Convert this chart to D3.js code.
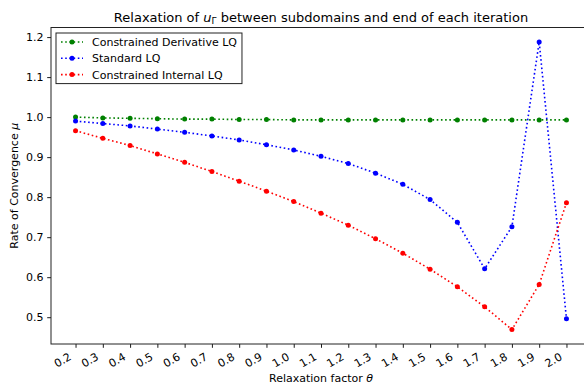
<!DOCTYPE html>
<html>
<head>
<meta charset="utf-8">
<script src="https://cdn.jsdelivr.net/npm/d3@7"></script>
<style>
  html, body { margin: 0; padding: 0; background: #fff; }
  svg { display: block; font-family: "DejaVu Sans", sans-serif; }
</style>
</head>
<body>
<svg id="chart" width="584" height="385"></svg>
<script>
// Relaxation factors on the x axis
const theta = [0.2, 0.3, 0.4, 0.5, 0.6, 0.7, 0.8, 0.9, 1.0, 1.1, 1.2, 1.3, 1.4, 1.5, 1.6, 1.7, 1.8, 1.9, 2.0];

// Rate of convergence for each scheme
const constrainedDerivative = [1.000, 0.998, 0.997, 0.996, 0.995, 0.995, 0.994, 0.994, 0.993, 0.993, 0.993, 0.993, 0.993, 0.993, 0.993, 0.993, 0.993, 0.993, 0.993];
const standard = [0.990, 0.984, 0.978, 0.970, 0.962, 0.953, 0.943, 0.931, 0.918, 0.902, 0.884, 0.860, 0.832, 0.794, 0.737, 0.621, 0.726, 1.188, 0.496];
const constrainedInternal = [0.966, 0.947, 0.929, 0.908, 0.887, 0.864, 0.840, 0.815, 0.789, 0.760, 0.730, 0.696, 0.660, 0.620, 0.576, 0.526, 0.469, 0.582, 0.786];

const xTicks = theta;
const yTicks = [0.5, 0.6, 0.7, 0.8, 0.9, 1.0, 1.1, 1.2];

const seriesNames = ["Constrained Derivative LQ", "Standard LQ", "Constrained Internal LQ"];
const seriesColors = ["#008000", "#0000ff", "#ff0000"];
const seriesValues = [constrainedDerivative, standard, constrainedInternal];

const svg = d3.select("#chart");
const plot = { left: 51, right: 591, top: 27.5, bottom: 344 };
const fs = 11;

// 5% data margins on both axes
const xMin = d3.min(theta), xMax = d3.max(theta);
const xPad = (xMax - xMin) * 0.05;
const allY = seriesValues.flat();
const yMin = d3.min(allY), yMax = d3.max(allY);
const yPad = (yMax - yMin) * 0.05;

const x = d3.scaleLinear().domain([xMin - xPad, xMax + xPad]).range([plot.left, plot.right]);
const y = d3.scaleLinear().domain([yMin - yPad, yMax + yPad]).range([plot.bottom, plot.top]);

// Title
const title = svg.append("text")
  .attr("x", (plot.left + plot.right) / 2)
  .attr("y", 21.5)
  .attr("text-anchor", "middle")
  .attr("font-size", 13)
  .attr("fill", "#000");
title.append("tspan").text("Relaxation of ");
title.append("tspan").attr("font-style", "italic").text("u");
title.append("tspan").attr("font-size", 9).attr("dy", 2.8).text("Γ");
title.append("tspan").attr("dy", -2.8).text(" between subdomains and end of each iteration");

// Series lines and markers
const line = d3.line().x((d, i) => x(theta[i])).y(d => y(d));
seriesValues.forEach((vals, k) => {
  svg.append("path")
    .datum(vals)
    .attr("d", line)
    .attr("fill", "none")
    .attr("stroke", seriesColors[k])
    .attr("stroke-width", 1.6)
    .attr("stroke-dasharray", "1.6,2.6");
  svg.append("g").selectAll("circle")
    .data(vals)
    .join("circle")
    .attr("cx", (d, i) => x(theta[i]))
    .attr("cy", d => y(d))
    .attr("r", 2.5)
    .attr("fill", seriesColors[k]);
});

// Axes
const xAxis = d3.axisBottom(x).tickValues(xTicks).tickFormat(d3.format(".1f")).tickSize(3.8).tickPadding(3.8);
const yAxis = d3.axisLeft(y).tickValues(yTicks).tickFormat(d3.format(".1f")).tickSize(3.8).tickPadding(3.8);

const gx = svg.append("g").attr("transform", `translate(0,${plot.bottom})`).call(xAxis);
gx.select(".domain").remove();
gx.selectAll(".tick line").attr("stroke", "#000").attr("stroke-width", 0.9);
gx.selectAll(".tick text")
  .attr("font-size", fs)
  .attr("font-family", "DejaVu Sans, sans-serif")
  .attr("fill", "#000")
  .attr("text-anchor", "end")
  .attr("dy", null)
  .attr("y", 0)
  .attr("transform", "translate(-4,15) rotate(-30)");

const gy = svg.append("g").attr("transform", `translate(${plot.left},0)`).call(yAxis);
gy.select(".domain").remove();
gy.selectAll(".tick line").attr("stroke", "#000").attr("stroke-width", 0.9);
gy.selectAll(".tick text")
  .attr("font-size", fs)
  .attr("font-family", "DejaVu Sans, sans-serif")
  .attr("fill", "#000");

// Axes frame
svg.append("rect")
  .attr("x", plot.left).attr("y", plot.top)
  .attr("width", plot.right - plot.left).attr("height", plot.bottom - plot.top)
  .attr("fill", "none").attr("stroke", "#222").attr("stroke-width", 1);

// Axis labels
const xl = svg.append("text")
  .attr("x", (plot.left + plot.right) / 2)
  .attr("y", 382)
  .attr("text-anchor", "middle")
  .attr("font-size", fs)
  .attr("fill", "#000");
xl.append("tspan").text("Relaxation factor ");
xl.append("tspan").attr("font-style", "italic").text("θ");

const yl = svg.append("text")
  .attr("transform", `translate(18,${(plot.top + plot.bottom) / 2}) rotate(-90)`)
  .attr("text-anchor", "middle")
  .attr("font-size", fs)
  .attr("fill", "#000");
yl.append("tspan").text("Rate of Convergence ");
yl.append("tspan").attr("font-style", "italic").text("μ");

// Legend
const legend = svg.append("g").attr("transform", `translate(${plot.left + 5},${plot.top + 5.5})`);
const rowH = 16.3;
const legendBox = legend.append("rect")
  .attr("x", 0).attr("y", 0)
  .attr("fill", "#fff").attr("stroke", "#222").attr("stroke-width", 1);
let maxW = 0;
seriesNames.forEach((name, k) => {
  const cy = 9 + k * rowH;
  legend.append("line")
    .attr("x1", 5).attr("x2", 27).attr("y1", cy).attr("y2", cy)
    .attr("stroke", seriesColors[k]).attr("stroke-width", 1.6)
    .attr("stroke-dasharray", "1.6,2.6");
  legend.append("circle").attr("cx", 16).attr("cy", cy).attr("r", 2.5).attr("fill", seriesColors[k]);
  const t = legend.append("text")
    .attr("x", 36).attr("y", cy + 4)
    .attr("font-size", fs).attr("fill", "#000")
    .text(name);
  maxW = Math.max(maxW, t.node().getComputedTextLength());
});
legendBox.attr("width", 36 + maxW + 5).attr("height", 9 + 2 * rowH + 9);
</script>
</body>
</html>
